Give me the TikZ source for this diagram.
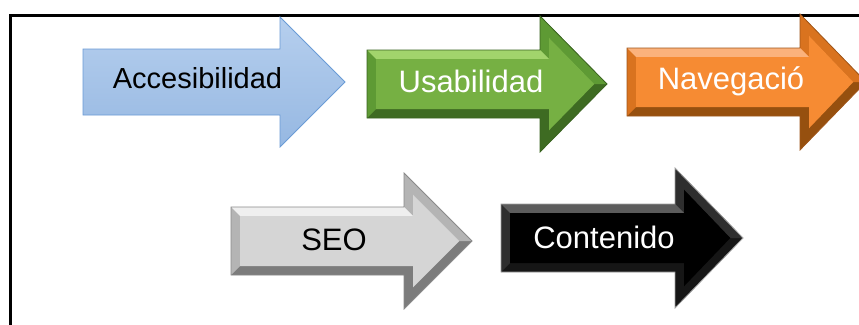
\documentclass[tikz,border=0pt]{standalone}
\usepackage{fontspec}
\setmainfont{Liberation Sans}

\definecolor{bluT}{HTML}{B6CFEE}
\definecolor{bluB}{HTML}{96B8E2}
\definecolor{bluE}{HTML}{6A9BD6}
\definecolor{grnL}{HTML}{A2D46C}
\definecolor{grnM}{HTML}{5E9A34}
\definecolor{grnD}{HTML}{3E6B22}
\definecolor{grnF}{HTML}{76B043}
\definecolor{grnE}{HTML}{3A6420}
\definecolor{orgL}{HTML}{FBB27C}
\definecolor{orgM}{HTML}{D9731F}
\definecolor{orgD}{HTML}{96500F}
\definecolor{orgF}{HTML}{F68B33}
\definecolor{orgE}{HTML}{A0561A}
\definecolor{gryL}{HTML}{EFEFEF}
\definecolor{gryM}{HTML}{B4B4B4}
\definecolor{gryD}{HTML}{7C7C7C}
\definecolor{gryF}{HTML}{D5D5D5}
\definecolor{gryE}{HTML}{8A8A8A}
\definecolor{blkL}{HTML}{5C5C5C}
\definecolor{blkM}{HTML}{2E2E2E}
\definecolor{blkD}{HTML}{161616}
\definecolor{blkF}{HTML}{000000}
\definecolor{blkE}{HTML}{A0A0A0}

\newcommand{\bev}{9}
% beveled arrow: left, head x, tip x, mid y, shaft half, head half, colour set
\newcommand{\bevarrow}[7]{%
	\coordinate (p1) at (#1,#4-#5); \coordinate (p2) at (#2,#4-#5);
	\coordinate (p3) at (#2,#4-#6); \coordinate (p4) at (#3,#4);
	\coordinate (p5) at (#2,#4+#6); \coordinate (p6) at (#2,#4+#5);
	\coordinate (p7) at (#1,#4+#5);
	\coordinate (q1) at (#1+\bev,#4-#5+\bev); \coordinate (q2) at (#2+\bev,#4-#5+\bev);
	\coordinate (q3) at (#2+\bev,#4-#6+2.414*\bev); \coordinate (q4) at (#3-1.414*\bev,#4);
	\coordinate (q5) at (#2+\bev,#4+#6-2.414*\bev); \coordinate (q6) at (#2+\bev,#4+#5-\bev);
	\coordinate (q7) at (#1+\bev,#4+#5-\bev);
	\fill[#7D] (p1)--(p2)--(p3)--(p4)--(p5)--(p6)--(p7)--cycle;
	\fill[#7M] (p7)--(p1)--(p2)--(p3)--(p4)--(q4)--(q3)--(q2)--(q1)--(q7)--cycle;
	\fill[#7L] (p1)--(p2)--(q2)--(q1)--cycle;
	\fill[#7F] (q1)--(q2)--(q3)--(q4)--(q5)--(q6)--(q7)--cycle;
	\draw[#7E,line width=0.8pt] (p1)--(p2)--(p3)--(p4)--(p5)--(p6)--(p7)--cycle;
}

\begin{document}
\begin{tikzpicture}[x=1pt,y=-1pt,
	lbl/.style={anchor=base,inner sep=0pt,font=\fontsize{31}{36}\selectfont}]
	\useasboundingbox (0,0) rectangle (859,324);
	\fill[white] (0,0) rectangle (859,324);
	\draw[line width=3.6pt] (10.5,330)--(10.5,15.5)--(870,15.5); %marco

	% fila de arriba
	\shadedraw[top color=bluT,bottom color=bluB,draw=bluE,line width=0.8pt]
		(83,49)--(280,49)--(280,17)--(345,82)--(280,147)--(280,115)--(83,115)--cycle;
	\bevarrow{367}{540}{607}{84}{34}{68}{grn}
	\bevarrow{627}{800}{866}{82}{34}{68}{org}
	% fila de abajo
	\bevarrow{231}{404}{472}{241}{34}{68}{gry}
	\bevarrow{501}{675}{743}{238}{34}{70}{blk}

	\node[lbl,font=\fontsize{29}{34}\selectfont] (acc) at (197.5,88) {Accesibilidad};
	\node[lbl,white] (usa) at (471,92.5) {Usabilidad};
	\node[lbl,white] (nav) at (731,89.5) {Navegació};
	\node[lbl] (seo) at (334,250) {SEO};
	\node[lbl,white] (con) at (604,248.5) {Contenido};
\end{tikzpicture}
\end{document}
